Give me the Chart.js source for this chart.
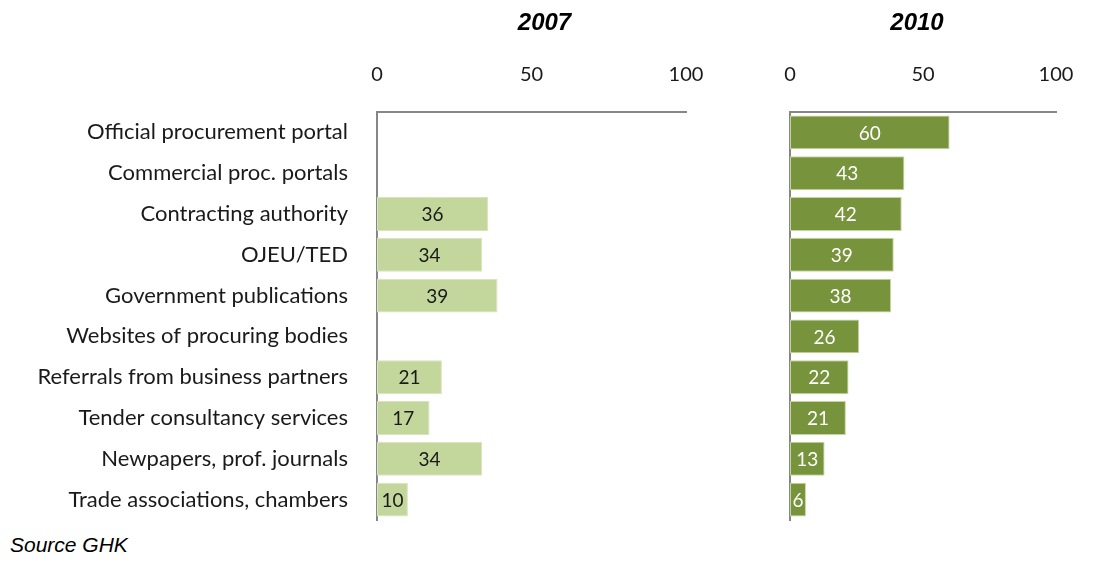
<!DOCTYPE html>
<html>
<head>
<meta charset="utf-8">
<script src="https://cdn.jsdelivr.net/npm/chart.js@4.4.1/dist/chart.umd.min.js"></script>
<style>
  body { margin: 0; background: #fff; width: 1098px; height: 569px; position: relative; overflow: hidden; }
  #chart2007 { position: absolute; left: 0; top: 0; }
  #chart2010 { position: absolute; left: 760px; top: 0; }
  #source { position: absolute; left: 10px; top: 533px; font: italic 21px "Liberation Sans", Arial, sans-serif; color: #000; }
</style>
</head>
<body>
<canvas id="chart2007" width="710" height="530"></canvas>
<canvas id="chart2010" width="338" height="530"></canvas>
<div id="source">Source GHK</div>
<script>
const categories = [
  "Official procurement portal",
  "Commercial proc. portals",
  "Contracting authority",
  "OJEU/TED",
  "Government publications",
  "Websites of procuring bodies",
  "Referrals from business partners",
  "Tender consultancy services",
  "Newpapers, prof. journals",
  "Trade associations, chambers"
];
const values2007 = [null, null, 36, 34, 39, null, 21, 17, 34, 10];
const values2010 = [60, 43, 42, 39, 38, 26, 22, 21, 13, 6];
const xTicks = [0, 50, 100];

const labelFont = "Lato";

// draws the panel title and the value inside each bar
const barText = {
  id: "barText",
  afterDatasetsDraw(chart, args, opts) {
    const ctx = chart.ctx;
    const area = chart.chartArea;
    ctx.save();
    ctx.font = "italic bold 24px 'Liberation Sans', Arial";
    ctx.fillStyle = "#000";
    ctx.textAlign = "center";
    ctx.textBaseline = "middle";
    ctx.fillText(opts.title, (area.left + area.right) / 2 + opts.titleShift, 23);

    ctx.font = "19px " + labelFont;
    ctx.fillStyle = opts.color;
    const meta = chart.getDatasetMeta(0);
    meta.data.forEach((bar, i) => {
      const v = chart.data.datasets[0].data[i];
      if (v == null) return;
      const p = bar.getProps(["x", "y", "base"], true);
      ctx.fillText(String(v), (p.x + p.base) / 2, p.y + 1);
    });
    ctx.restore();
  }
};

// no extra room for overhanging tick labels
function noPad(scale) {
  scale.paddingLeft = 0;
  scale.paddingRight = 0;
  scale.paddingTop = 0;
  scale.paddingBottom = 0;
}

function makeChart(id, data, fill, edge, showLabels, yWidth, padRight, title, titleShift, textColor) {
  return new Chart(document.getElementById(id), {
    type: "bar",
    data: {
      labels: categories,
      datasets: [{
        data: data,
        backgroundColor: fill,
        borderColor: edge,
        borderWidth: 1,
        borderSkipped: false,
        barPercentage: 0.83,
        categoryPercentage: 1
      }]
    },
    options: {
      indexAxis: "y",
      responsive: false,
      animation: false,
      layout: { padding: { top: 0, right: padRight, bottom: 10, left: 0 } },
      plugins: {
        legend: { display: false },
        tooltip: { enabled: false },
        barText: { title: title, titleShift: titleShift, color: textColor }
      },
      scales: {
        x: {
          position: "top",
          min: 0,
          max: 100,
          afterFit(scale) { scale.height = 112; noPad(scale); },
          afterBuildTicks(scale) { scale.ticks = xTicks.map(v => ({ value: v })); },
          grid: { display: false, drawTicks: false },
          border: { display: true, color: "#868686", width: 2 },
          ticks: { padding: 25, color: "#1a1a1a", font: { family: labelFont, size: 20 }, maxRotation: 0 }
        },
        y: {
          afterFit(scale) { scale.width = yWidth; noPad(scale); },
          grid: { display: false, drawTicks: false },
          border: { display: true, color: "#868686", width: 2 },
          ticks: { display: showLabels, padding: 29, color: "#1a1a1a", font: { family: labelFont, size: 22 } }
        }
      }
    },
    plugins: [barText]
  });
}

makeChart("chart2007", values2007, "#c3d69b", "#d8e4bc", true, 377, 24, "2007", 13, "#1a1a1a");
makeChart("chart2010", values2010, "#77933c", "#c3d69b", false, 30, 42, "2010", -6, "#ffffff");
</script>
</body>
</html>
